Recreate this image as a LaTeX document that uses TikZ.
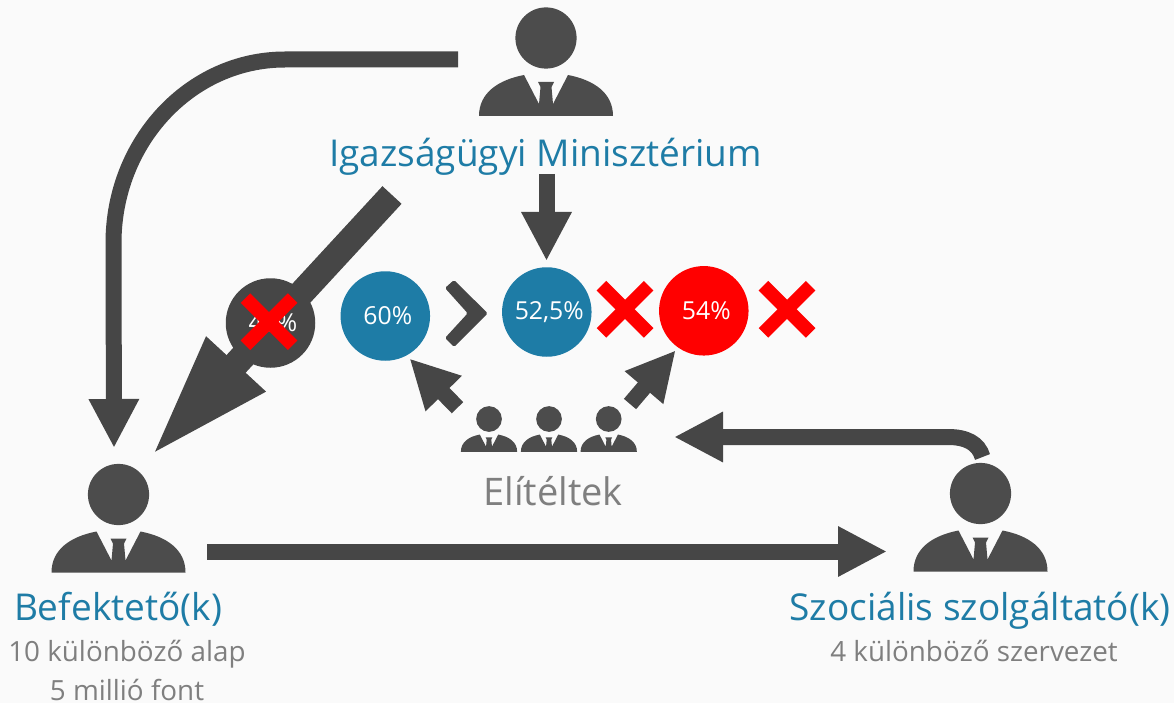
\documentclass[tikz,border=0pt]{standalone}
\usepackage{fontspec}
\setmainfont{Open Sans}
\usetikzlibrary{arrows.meta}
\definecolor{paper}{HTML}{FAFAFA}
\definecolor{arrowgray}{HTML}{464646}
\definecolor{persongray}{HTML}{4C4C4C}
\definecolor{textgray}{HTML}{7F7F7F}
\definecolor{tealblue}{HTML}{1E7CA6}
\tikzset{
  pics/person/.style={code={
    \fill[persongray] (0,0) circle[radius=30.6];
    \fill[persongray] (-67,78) .. controls (-67,55) and (-48,42) .. (-22,37)
      -- (-7,66) -- (-5.5,49) -- (-8,44) -- (8,44) -- (5.5,49) -- (7,66) -- (22,37)
      .. controls (48,42) and (67,55) .. (67,78) -- cycle;
  }},
  pics/redcross/.style={code={
    \draw[red, line width=13.5pt] (-23.6,-23.6) -- (23.6,23.6);
    \draw[red, line width=13.5pt] (-23.6,23.6) -- (23.6,-23.6);
  }},
  blockarrow/.style={arrowgray, line width=16pt, -{Triangle[length=49pt,width=47pt]}},
  bigarrow/.style={arrowgray, line width=26pt, -{Triangle[length=126pt,width=73pt]}},
  pct/.style={circle, minimum size=89.5pt, inner sep=0pt, text=white, font=\fontsize{24.8}{24.8}\selectfont,
    execute at begin node=\kern5pt},
  heading/.style={anchor=base, inner sep=0pt, text=tealblue, font=\fontsize{37}{37}\selectfont},
  subtext/.style={anchor=base, inner sep=0pt, text=textgray, font=\fontsize{27.8}{27.8}\selectfont},
}
\begin{document}
\begin{tikzpicture}[x=1pt, y=-1pt]
  \useasboundingbox (0,0) rectangle (1174,703);
  \fill[paper] (0,0) rectangle (1174,703);
  \pic at (546,38) {person};
  \pic at (118.5,494.5) {person};
  \pic at (980.5,493.5) {person};
  \foreach \px in {489,549,608.7}
    \pic[scale=0.42] at (\px,419) {person};

  \coordinate (mintail) at (458,59.5);
  \coordinate (minbend) at (285,59.5);
  \coordinate (invbend) at (113.5,243);
  \coordinate (invtip) at (114,448);
  \coordinate (dirtail) at (392,195);
  \coordinate (dirtip) at (150.6,456.5);
  \coordinate (rateout) at (546.5,174);
  \coordinate (ratetip) at (546.5,261);
  \coordinate (lefttail) at (457.5,407.7);
  \coordinate (lefttip) at (409.5,358.5);
  \coordinate (righttail) at (630,404);
  \coordinate (righttip) at (675.7,350.3);
  \coordinate (svctail) at (982.5,457);
  \coordinate (svcbend) at (948,437);
  \coordinate (svctip) at (674,437);
  \coordinate (paytail) at (207,551.5);
  \coordinate (paytip) at (887,551.5);

  \draw[blockarrow] (mintail) -- (minbend) .. controls +(-95,0) and +(0,-101) .. (invbend) -- (invtip);
  \draw[bigarrow] (dirtail) -- (dirtip);
  \draw[blockarrow] (rateout) -- (ratetip);
  \draw[blockarrow] (lefttail) -- (lefttip);
  \draw[blockarrow] (righttail) -- (righttip);
  \draw[blockarrow] (svctail) .. controls +(-4,-14) and +(18,0) .. (svcbend) -- (svctip);
  \draw[blockarrow] (paytail) -- (paytip);

  \node[pct, fill=arrowgray] (oldrate) at (270.5,323) {45\%};
  \node[pct, fill=tealblue] (rate60) at (385.3,316) {60\%};
  \node[pct, fill=tealblue] (rate52) at (546.8,312) {52,5\%};
  \node[pct, fill=red] (rate54) at (703.8,310.8) {54\%};

  \fill[arrowgray, rounded corners=1.5pt] (454,280) -- (487.7,313.3) -- (454,347) -- (445,338)
    -- (467.7,313.3) -- (445,288) -- cycle;

  \pic at (269,321.7) {redcross};
  \pic at (625,309.3) {redcross};
  \pic at (787,309.3) {redcross};

  \node[heading] (ministry) at (545.5,167) {Igazságügyi Minisztérium};
  \node[heading] (investor) at (118,620.5) {Befektető(k)};
  \node[heading] (provider) at (980,620.5) {Szociális szolgáltató(k)};
  \node[subtext, font=\fontsize{38}{38}\selectfont] (convicts) at (553,505) {Elítéltek};
  \node[subtext] (funds) at (127,661.5) {10 különböző alap};
  \node[subtext] (million) at (127,700) {5 millió font};
  \node[subtext] (orgs) at (974,661.5) {4 különböző szervezet};
\end{tikzpicture}
\end{document}
